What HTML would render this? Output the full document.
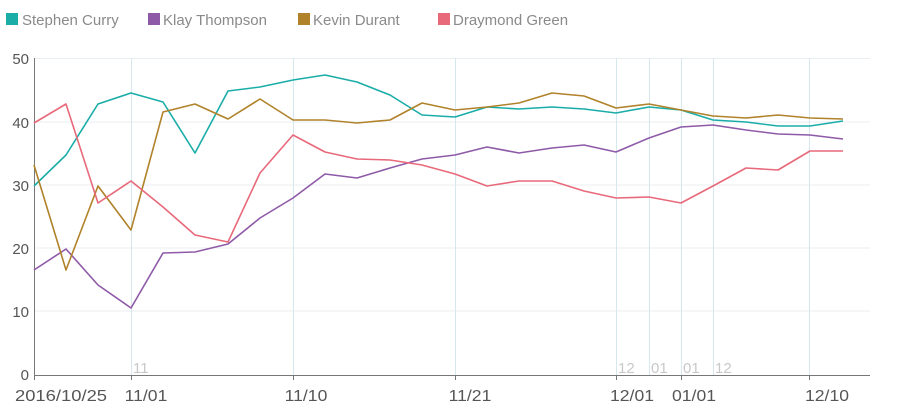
<!DOCTYPE html>
<html><head><meta charset="utf-8"><style>
html,body{margin:0;padding:0;background:#fff;width:900px;height:413px;overflow:hidden}
svg{display:block;font-family:"Liberation Sans",sans-serif}
</style></head><body>
<svg width="900" height="413" viewBox="0 0 900 413">
<g font-size="15" fill="#888">
<rect x="6" y="13" width="12" height="12" fill="#1aada8"/><text x="22" y="25" fill="#8a8a8a">Stephen Curry</text>
<rect x="148" y="13" width="12" height="12" fill="#8e5aa8"/><text x="163" y="25" fill="#8a8a8a">Klay Thompson</text>
<rect x="298" y="13" width="12" height="12" fill="#b0822a"/><text x="313" y="25" fill="#8a8a8a">Kevin Durant</text>
<rect x="438" y="13" width="12" height="12" fill="#e8697a"/><text x="453" y="25" fill="#8a8a8a">Draymond Green</text>
</g>
<g stroke="#e8eef2" stroke-width="1">
<line x1="34" x2="870" y1="58.5" y2="58.5"/><line x1="34" x2="870" y1="122" y2="122"/><line x1="34" x2="870" y1="185" y2="185"/><line x1="34" x2="870" y1="248" y2="248"/><line x1="34" x2="870" y1="311" y2="311"/>
</g>
<g stroke="#d5e8f0" stroke-width="1">
<line x1="131.5" x2="131.5" y1="58" y2="375"/><line x1="293.5" x2="293.5" y1="58" y2="375"/><line x1="455.5" x2="455.5" y1="58" y2="375"/><line x1="616.5" x2="616.5" y1="58" y2="375"/><line x1="649.5" x2="649.5" y1="58" y2="375"/><line x1="681.5" x2="681.5" y1="58" y2="375"/><line x1="713.5" x2="713.5" y1="58" y2="375"/><line x1="809.5" x2="809.5" y1="58" y2="375"/>
</g>
<line x1="34.5" x2="34.5" y1="58" y2="380" stroke="#777"/>
<line x1="34" x2="870" y1="375.5" y2="375.5" stroke="#777"/>
<g stroke="#777"><line x1="131.5" x2="131.5" y1="375" y2="380"/><line x1="293.5" x2="293.5" y1="375" y2="380"/><line x1="455.5" x2="455.5" y1="375" y2="380"/><line x1="616.5" x2="616.5" y1="375" y2="380"/><line x1="681.5" x2="681.5" y1="375" y2="380"/><line x1="809.5" x2="809.5" y1="375" y2="380"/></g>
<g font-size="15" fill="#555" text-anchor="end">
<text x="29" y="64">50</text><text x="29" y="128">40</text><text x="29" y="191">30</text><text x="29" y="254">20</text><text x="29" y="317">10</text><text x="29" y="380">0</text>
</g>
<g font-size="16" fill="#555" text-anchor="middle">
<text transform="translate(61,401) scale(1.15,1)">2016/10/25</text><text transform="translate(146,401) scale(1.1,1)">11/01</text><text transform="translate(306,401) scale(1.1,1)">11/10</text><text transform="translate(470,401) scale(1.1,1)">11/21</text><text transform="translate(632,401) scale(1.1,1)">12/01</text><text transform="translate(694,401) scale(1.1,1)">01/01</text><text transform="translate(827,401) scale(1.1,1)">12/10</text>
</g>
<g font-size="15" fill="#c8c8c8">
<text x="133" y="373">11</text><text x="618" y="373">12</text><text x="651" y="373">01</text><text x="683" y="373">01</text><text x="715" y="373">12</text>
</g>
<g fill="none" stroke-width="1.6" stroke-linejoin="round">
<polyline stroke="#1aada8" points="34,186 66,155 98,104 131,93 163,102 195,153 228,91 260,87 293,80 325,75 357,82 390,95 422,115 455,117 487,107 519,109 552,107 584,109 616,113 649,107 681,110 713,120 746,122 778,126 810,126 843,121"/>
<polyline stroke="#8e5aa8" points="34,270 66,249 98,285 131,308 163,253 195,252 228,244 260,218 293,198 325,174 357,178 390,168 422,159 455,155 487,147 519,153 552,148 584,145 616,152 649,138 681,127 713,125 746,130 778,134 810,135 843,139"/>
<polyline stroke="#b0822a" points="34,165 66,270 98,186 131,230 163,112 195,104 228,119 260,99 293,120 325,120 357,123 390,120 422,103 455,110 487,107 519,103 552,93 584,96 616,108 649,104 681,110 713,116 746,118 778,115 810,118 843,119"/>
<polyline stroke="#e8697a" points="34,123 66,104 98,203 131,181 163,207 195,235 228,242 260,173 293,135 325,152 357,159 390,160 422,165 455,174 487,186 519,181 552,181 584,191 616,198 649,197 681,203 713,186 746,168 778,170 810,151 843,151"/>
</g>
</svg>
</body></html>
